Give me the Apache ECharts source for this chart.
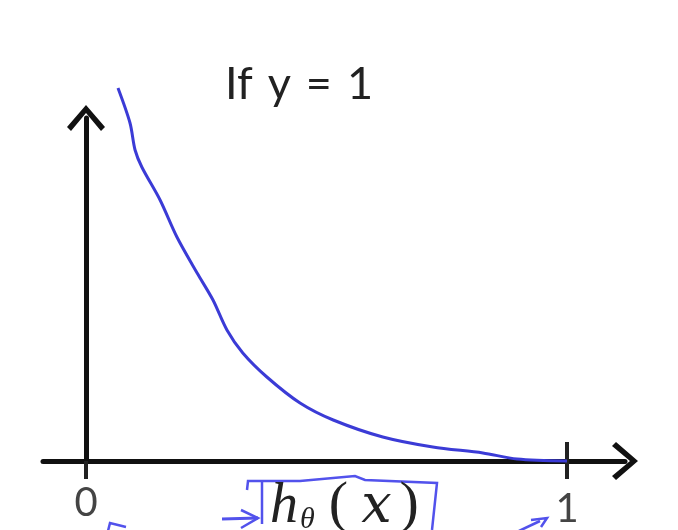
<!DOCTYPE html>
<html><head><meta charset="utf-8">
<script src="https://cdn.jsdelivr.net/npm/echarts@6/dist/echarts.min.js"></script>
<style>html,body{margin:0;padding:0;background:#fff}#c{width:678px;height:530px}</style>
</head><body><div id="c"></div>
<script>
// ---- data ----
const titleText = 'If\u2004y\u2004=\u20041';
const xTickValues = [0, 1];
const xLabelLow = [0];      // label drawn just under the axis
const xLabelHigh = [1];     // label drawn a little lower
const hValues    = [0.0665, 0.0915, 0.102, 0.116, 0.154, 0.189, 0.231, 0.264, 0.293, 0.326, 0.376, 0.445, 0.514, 0.617, 0.721, 0.825, 0.896, 1.0];
const costValues = [3.73,   3.38,   3.11,  2.94,  2.61,  2.24,  1.88,  1.61,  1.31,  1.08,  0.84,  0.58,  0.41,  0.24,  0.14,  0.08,  0.02,  0.0];

// ---- styling ----
const chevron = 'path://M19,0 L38,22 L34,26 L19,8 L4,26 L0,22 Z';
const axisBlack = '#111';
const curveBlue = '#3b3bd6';
const penBlue = '#5252ec';
const serif = 'Liberation Serif';

const chart = echarts.init(document.getElementById('c'), null, {renderer: 'canvas'});
const xMin = -0.0894, xMax = 1.1206;

chart.setOption({
  animation: false,
  backgroundColor: '#fff',
  title: {
    text: titleText, left: 220, top: 57,
    textStyle: {fontFamily: 'Lato', fontSize: 45, fontWeight: 'normal', color: '#222'}
  },
  grid: {left: 43, right: 53, top: 118, bottom: 69, containLabel: false, outerBoundsMode: 'none'},
  xAxis: [{
    type: 'value', min: xMin, max: xMax,
    axisLine: {onZero: false, lineStyle: {color: axisBlack, width: 5}, symbol: ['none', chevron], symbolSize: [38, 26]},
    axisTick: {show: true, customValues: xTickValues, length: 18, lineStyle: {color: '#222', width: 4}},
    axisLabel: {show: true, customValues: xLabelLow, margin: 22, fontFamily: 'Lato', fontSize: 40, color: '#444'},
    splitLine: {show: false},
    name: '{h|h}{s|θ}{p|(}{x|x}{q|)}',
    nameLocation: 'middle', nameGap: 14, nameMoveOverlap: false,
    nameTextStyle: {
      padding: [0, 0, 0, 21],
      rich: {
        h: {fontFamily: serif, fontStyle: 'italic', fontSize: 56, color: '#222', lineHeight: 60, verticalAlign: 'bottom'},
        s: {fontFamily: serif, fontStyle: 'italic', fontSize: 30, color: '#222', lineHeight: 20, verticalAlign: 'bottom', padding: [0, 0, 0, 2]},
        p: {fontFamily: serif, fontSize: 58, color: '#222', lineHeight: 60, verticalAlign: 'bottom', padding: [0, 0, 0, 14]},
        x: {fontFamily: 'DejaVu Serif', fontStyle: 'italic', fontSize: 54, color: '#222', lineHeight: 60, verticalAlign: 'bottom', padding: [0, 0, 0, 13]},
        q: {fontFamily: serif, fontSize: 58, color: '#222', lineHeight: 60, verticalAlign: 'bottom', padding: [0, 0, 0, 8]}
      }
    }
  }, {
    type: 'value', min: xMin, max: xMax, position: 'bottom',
    axisLine: {show: false, onZero: false},
    axisTick: {show: true, inside: true, customValues: [xTickValues[1]], length: 19, lineStyle: {color: '#222', width: 4}},
    axisLabel: {show: true, customValues: xLabelHigh, margin: 28, fontFamily: 'Lato', fontSize: 40, color: '#444'},
    splitLine: {show: false}
  }],
  yAxis: {
    type: 'value', min: 0, max: 3.43,
    axisLine: {show: true, onZero: true, lineStyle: {color: axisBlack, width: 5}, symbol: ['none', chevron], symbolSize: [38, 26]},
    axisTick: {show: false}, axisLabel: {show: false}, splitLine: {show: false}
  },
  series: [{
    type: 'line', xAxisIndex: 0, yAxisIndex: 0,
    data: hValues.map((h, i) => [h, costValues[i]]),
    smooth: 0.3, showSymbol: false, clip: false,
    lineStyle: {color: curveBlue, width: 3}, z: 5
  }],
  graphic: [
    // hand-drawn pen annotations around the axis name
    {type: 'polyline', shape: {points: [[247, 490], [248, 481], [300, 481], [355, 476], [365, 480], [437, 483], [432, 530]]}, style: {stroke: penBlue, lineWidth: 2.5, fill: null}},
    {type: 'polyline', shape: {points: [[262, 481], [262, 524]]}, style: {stroke: penBlue, lineWidth: 2.5, fill: null}},
    {type: 'polyline', shape: {points: [[222, 519], [258, 518]]}, style: {stroke: penBlue, lineWidth: 3, fill: null}},
    {type: 'polyline', shape: {points: [[241, 510], [258, 518], [241, 528]]}, style: {stroke: penBlue, lineWidth: 2.5, fill: null}},
    {type: 'polyline', shape: {points: [[108, 531], [110, 523], [126, 527]]}, style: {stroke: penBlue, lineWidth: 2.5, fill: null}},
    {type: 'polyline', shape: {points: [[519, 531], [540, 521]]}, style: {stroke: penBlue, lineWidth: 2.5, fill: null}},
    {type: 'polyline', shape: {points: [[531, 520], [547, 518], [541, 527]]}, style: {stroke: penBlue, lineWidth: 2.5, fill: null}}
  ]
});
</script></body></html>
